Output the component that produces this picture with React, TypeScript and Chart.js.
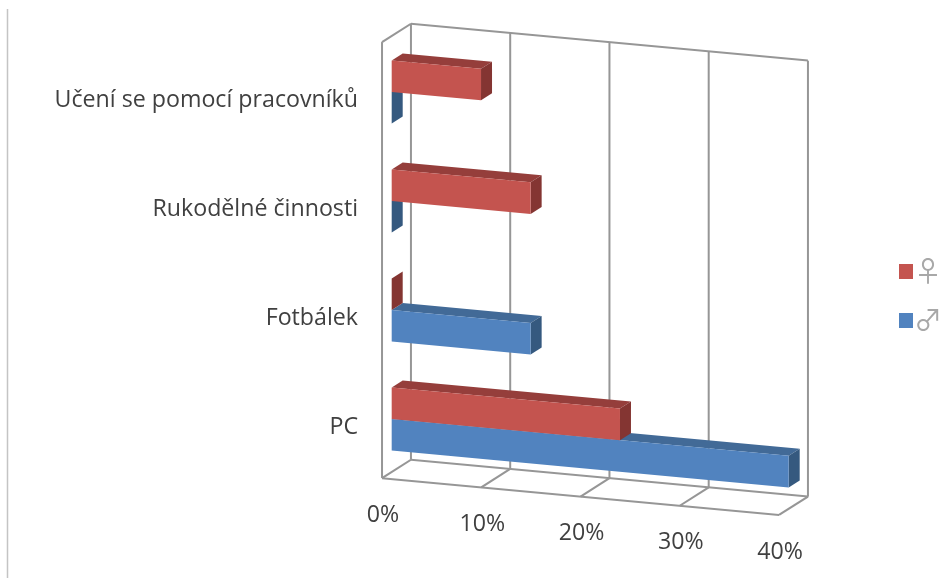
import React, { useEffect, useRef } from "react";
import { Chart, registerables } from "chart.js";

Chart.register(...registerables);

const categories = ["Učení se pomocí pracovníků", "Rukodělné činnosti", "Fotbálek", "PC"];
const femaleValues = [9, 14, 0, 23];
const maleValues = [0, 0, 14, 40];
const seriesNames = ["♀", "♂"];
const tickValues = { min: 0, max: 40, step: 10 };

const FRONT = ["#c4544f", "#5183bf"];
const TOP = ["#953e3b", "#426a97"];
const SIDE = ["#843532", "#35597f"];
const GRID = "#969696";
const TEXT = "#404040";
const FONT = "'Open Sans', Lato, sans-serif";
const LABEL_SIZE = 23.2;

const SLOPE = 0.0927;
const DX = 11;
const DY = 7 + DX * SLOPE;
const WALL_BACK = 1.75;
const WALL_FRONT = -0.88;
const WALL_SHIFT = -1.5;
const AREA_LEFT = 391.7;
const AREA_RIGHT = 788.7;
const AREA_TOP = 37.5;
const AREA_BOTTOM = 473.5;

const pt = (x: number, y: number, d: number): [number, number] => [x + DX * d, y - DY * d];

function poly(ctx: CanvasRenderingContext2D, pts: [number, number][], fill: string) {
  ctx.beginPath();
  pts.forEach((p, i) => (i ? ctx.lineTo(p[0], p[1]) : ctx.moveTo(p[0], p[1])));
  ctx.closePath();
  ctx.fillStyle = fill;
  ctx.fill();
}

function seg(ctx: CanvasRenderingContext2D, a: [number, number], b: [number, number]) {
  ctx.beginPath();
  ctx.moveTo(a[0], a[1]);
  ctx.lineTo(b[0], b[1]);
  ctx.stroke();
}

const box3d = {
  id: "box3d",
  beforeDraw(chart: any) {
    const { ctx } = chart;
    chart.legend.left = 899 - chart.legend.options.labels.padding;
    chart.legend.right = 942;
    chart.legend.top = 236.5;
    chart.legend.bottom = 578;
    ctx.save();
    ctx.strokeStyle = "#c4c4c4";
    ctx.lineWidth = 1.5;
    seg(ctx, [7.5, 9], [7.5, 578]);
    ctx.restore();
  },
  beforeDatasetsDraw(chart: any) {
    const { ctx, chartArea: a, scales } = chart;
    ctx.save();
    ctx.transform(1, SLOPE, 0, 1, 0, -SLOPE * a.left);
    const top = a.top + WALL_SHIFT;
    const bottom = a.bottom + WALL_SHIFT;
    ctx.strokeStyle = GRID;
    ctx.lineWidth = 2;
    scales.x.ticks.forEach((t: any) => {
      const x = scales.x.getPixelForValue(t.value);
      seg(ctx, pt(x, top, WALL_BACK), pt(x, bottom, WALL_BACK));
      seg(ctx, pt(x, bottom, WALL_BACK), pt(x, bottom, WALL_FRONT));
    });
    seg(ctx, pt(a.left, top, WALL_BACK), pt(a.right, top, WALL_BACK));
    seg(ctx, pt(a.left, bottom, WALL_BACK), pt(a.right, bottom, WALL_BACK));
    seg(ctx, pt(a.left, bottom, WALL_FRONT), pt(a.right, bottom, WALL_FRONT));
    seg(ctx, pt(a.left, top, WALL_FRONT), pt(a.left, bottom, WALL_FRONT));
    seg(ctx, pt(a.left, top, WALL_FRONT), pt(a.left, top, WALL_BACK));
  },
  beforeDatasetDraw(chart: any, args: any) {
    const { ctx } = chart;
    const meta = chart.getDatasetMeta(args.index);
    meta.data.forEach((bar: any) => {
      const y0 = bar.y - bar.height / 2;
      const y1 = bar.y + bar.height / 2;
      poly(ctx, [pt(bar.base, y0, 0), pt(bar.x, y0, 0), pt(bar.x, y0, 1), pt(bar.base, y0, 1)], TOP[args.index]);
      poly(ctx, [pt(bar.x, y0, 0), pt(bar.x, y1, 0), pt(bar.x, y1, 1), pt(bar.x, y0, 1)], SIDE[args.index]);
    });
  },
  afterDatasetsDraw(chart: any) {
    const { ctx, chartArea: a, scales } = chart;
    ctx.restore();
    ctx.save();
    ctx.fillStyle = TEXT;
    ctx.font = `${LABEL_SIZE}px ${FONT}`;
    ctx.textAlign = "center";
    ctx.textBaseline = "middle";
    scales.x.ticks.forEach((t: any) => {
      const x = scales.x.getPixelForValue(t.value);
      const [px, py] = pt(x, a.bottom + WALL_SHIFT, WALL_FRONT);
      ctx.fillText(t.label, px + 1, py + SLOPE * (px - a.left) + 37);
    });
    ctx.restore();
  },
};

export default function App() {
  const ref = useRef<HTMLCanvasElement | null>(null);
  useEffect(() => {
    if (!ref.current) return;
    const chart: any = new Chart(ref.current, {
      type: "bar",
      data: {
        labels: categories,
        datasets: [
          { label: seriesNames[0], data: femaleValues, backgroundColor: FRONT[0], clip: false } as any,
          { label: seriesNames[1], data: maleValues, backgroundColor: FRONT[1], clip: false } as any,
        ],
      },
      options: {
        indexAxis: "y",
        animation: false,
        responsive: false,
        categoryPercentage: 0.58,
        barPercentage: 1,
        layout: { padding: { left: 0, top: AREA_TOP, bottom: 578 - AREA_BOTTOM, right: 0 } },
        plugins: {
          tooltip: { enabled: false },
          title: { display: false },
          legend: {
            display: true,
            position: "right",
            align: "start",
            labels: {
              boxWidth: 14,
              boxHeight: 15,
              padding: 21,
              textAlign: "right",
              color: "#a8a8a8",
              font: { family: "'Noto Sans CJK JP', 'DejaVu Sans'", size: 28 },
            },
          },
        },
        scales: {
          x: {
            min: tickValues.min,
            max: tickValues.max,
            ticks: { display: false, stepSize: tickValues.step, callback: (v: any) => `${v}%` },
            grid: { display: false, drawTicks: false },
            border: { display: false },
          },
          y: {
            afterFit: (s: any) => {
              s.width = AREA_LEFT;
              s.paddingTop = 0;
              s.paddingBottom = 0;
            },
            ticks: {
              padding: AREA_LEFT - 358,
              labelOffset: 8.5,
              color: TEXT,
              autoSkip: false,
              font: { family: FONT, size: LABEL_SIZE },
            },
            grid: { display: false, drawTicks: false },
            border: { display: false },
          },
        },
      } as any,
      plugins: [box3d],
    });
    chart.options.layout.padding.right = 942 - AREA_RIGHT - chart.legend.width;
    chart.update();
    return () => chart.destroy();
  }, []);
  return (
    <div style={{ position: "absolute", left: 0, top: 0, width: 942, height: 578, background: "#fff" }}>
      <canvas ref={ref} width={942} height={578} style={{ display: "block" }} />
    </div>
  );
}
